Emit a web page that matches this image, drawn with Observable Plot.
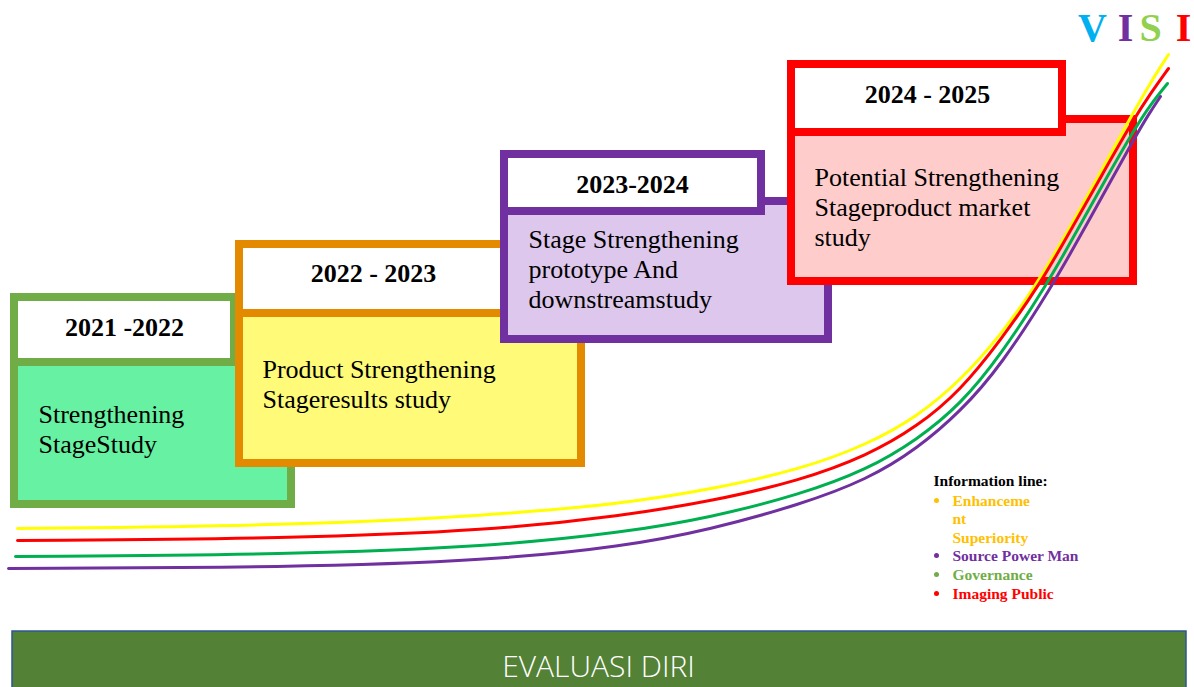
<!DOCTYPE html>
<html>
<head>
<meta charset="utf-8">
<script src="https://cdn.jsdelivr.net/npm/d3@7"></script>
<script src="https://cdn.jsdelivr.net/npm/@observablehq/plot@0.6"></script>
<style>
  html, body { margin: 0; padding: 0; background: #fff; overflow: hidden; }
</style>
</head>
<body>
<div id="chart"></div>
<script>
// ---------- data ----------
const stageYears = ["2021 -2022", "2022 - 2023", "2023-2024", "2024 - 2025"];
const stageTexts = [
  "Strengthening\nStageStudy",
  "Product Strengthening\nStageresults study",
  "Stage Strengthening\nprototype And\ndownstreamstudy",
  "Potential Strengthening\nStageproduct market\nstudy"
];
const stageBorder = ["#70AD47", "#E48A00", "#7030A0", "#FF0000"];
const stageFill = ["#66F2A2", "#FFFA78", "#DDC7EC", "#FFCCCC"];

// box geometry in page coordinates [x1, x2, y1, y2]
const stageBody = [[10, 295, 293, 508], [235, 585, 240, 467], [500, 832, 197, 343], [787, 1137, 115, 285]];
const stageTitle = [[10, 238, 293, 366], [235, 508, 240, 317], [500, 765, 150, 215], [787, 1066, 60, 136]];
const titleAnchor = [[124, 327], [373, 273], [632, 184], [927, 94]];
const textAnchor = [[38, 452], [262, 407], [528, 307], [814, 245]];

// information lines
const lineNames = ["Enhancement Superiority", "Imaging Public", "Governance", "Source Power Man"];
const lineColors = ["#FFFF00", "#FF0000", "#00B050", "#7030A0"];
const yellowLine = [[17,528],[290,525],[490,515],[623,503],[710,489],[800,469],[867,444],[917,416],[960,380],[1000,335],[1037,283],[1070,226],[1100,172],[1130,117],[1150,82],[1168,54]];
const redLine = [[17,540],[290,538],[490,530],[623,515],[710,501],[800,480],[867,455],[917,426],[960,390],[1000,340],[1040,283],[1070,230],[1100,177],[1133,119],[1150,93],[1168,68]];
const greenLine = [[15,556],[290,554],[490,546],[623,532],[710,517],[800,494],[867,469],[917,439],[960,404],[1000,355],[1047,283],[1075,233],[1105,179],[1135,127],[1150,104],[1167,83]];
const purpleLine = [[8,568],[290,567],[490,560],[623,546],[710,529],[800,504],[867,479],[917,448],[960,411],[1000,366],[1052,285],[1080,235],[1110,181],[1135,136],[1148,114],[1160,96]];
const lineSeries = [yellowLine, redLine, greenLine, purpleLine];

// legend
const legendTitle = "Information line:";
const legendLabels = ["Enhanceme", "nt", "Superiority", "Source Power Man", "Governance", "Imaging Public"];
const legendColors = ["#FFC000", "#FFC000", "#FFC000", "#7030A0", "#70AD47", "#FF0000"];
const legendBullet = [true, false, false, true, true, true];
const legendBaseline = [505, 523, 542, 560, 579, 598];

// VISI heading
const visiLetters = ["V", "I", "S", "I"];
const visiColors = ["#00B0F0", "#7030A0", "#92D050", "#FF0000"];
const visiX = [1092, 1125, 1150, 1183];

// bottom bar
const footerLabel = "EVALUASI DIRI";

// ---------- tables ----------
const rects = [];
stageYears.forEach((s, i) => {
  const b = stageBody[i], t = stageTitle[i];
  rects.push({x1: b[0], x2: b[1], y1: b[2], y2: b[3], fill: stageFill[i], stroke: stageBorder[i]});
  rects.push({x1: t[0], x2: t[1], y1: t[2], y2: t[3], fill: "#FFFFFF", stroke: stageBorder[i]});
});
const titles = stageYears.map((s, i) => ({label: s, x: titleAnchor[i][0], y: titleAnchor[i][1]}));
const bodies = stageTexts.map((s, i) => ({label: s, x: textAnchor[i][0], y: textAnchor[i][1]}));
const pts = lineSeries.flatMap((ser, i) => ser.map(([x, y]) => ({name: lineNames[i], color: lineColors[i], x, y})));
const legend = legendLabels.map((l, i) => ({label: l, color: legendColors[i], y: legendBaseline[i], bullet: legendBullet[i]}));
const visi = visiLetters.map((l, i) => ({label: l, color: visiColors[i], x: visiX[i]}));

const serif = "'Liberation Serif', 'Times New Roman', serif";

const chart = Plot.plot({
  width: 1194,
  height: 687,
  margin: 0,
  x: {domain: [0, 1194], range: [0, 1194], axis: null},
  y: {domain: [0, 687], range: [0, 687], axis: null},
  color: {type: "identity"},
  style: {background: "#fff"},
  marks: [
    // stage boxes
    Plot.rect(rects, {x1: "x1", x2: "x2", y1: "y1", y2: "y2", fill: "fill", stroke: "stroke", strokeWidth: 8, inset: 4}),
    Plot.text(titles, {x: "x", y: "y", text: "label", fontFamily: serif, fontWeight: "bold", fontSize: 26, fill: "#000", textAnchor: "middle", lineAnchor: "middle"}),
    Plot.text(bodies, {x: "x", y: "y", text: "label", fontFamily: serif, fontSize: 26, fill: "#000", textAnchor: "start", lineAnchor: "bottom", lineHeight: 30 / 26}),
    // information lines
    Plot.line(pts, {x: "x", y: "y", z: "name", stroke: "color", strokeWidth: 3, curve: "basis"}),
    // legend
    Plot.text([legendTitle], {x: 933, y: 485, text: d => d, fontFamily: serif, fontWeight: "bold", fontSize: 15.5, fill: "#000", textAnchor: "start", lineAnchor: "bottom"}),
    Plot.dot(legend.filter(d => d.bullet), {x: 936, y: d => d.y - 5, r: 2.5, fill: "color"}),
    Plot.text(legend, {x: 952, y: "y", text: "label", fill: "color", fontFamily: serif, fontWeight: "bold", fontSize: 15.5, textAnchor: "start", lineAnchor: "bottom"}),
    // VISI
    Plot.text(visi, {x: "x", y: 40, text: "label", fill: "color", fontFamily: serif, fontWeight: "bold", fontSize: 40, textAnchor: "middle", lineAnchor: "bottom"}),
    // bottom bar
    Plot.rect([footerLabel], {x1: 12, x2: 1186, y1: 631, y2: 700, fill: "#538135", stroke: "#2F5597", strokeWidth: 1.5}),
    Plot.text([footerLabel], {x: 598, y: 667, text: d => d, fill: "#FFFFFF", fontFamily: "'Open Sans', sans-serif", fontWeight: 300, fontSize: 30, textAnchor: "middle", lineAnchor: "middle"})
  ]
});
document.getElementById("chart").appendChild(chart);
</script>
</body>
</html>
